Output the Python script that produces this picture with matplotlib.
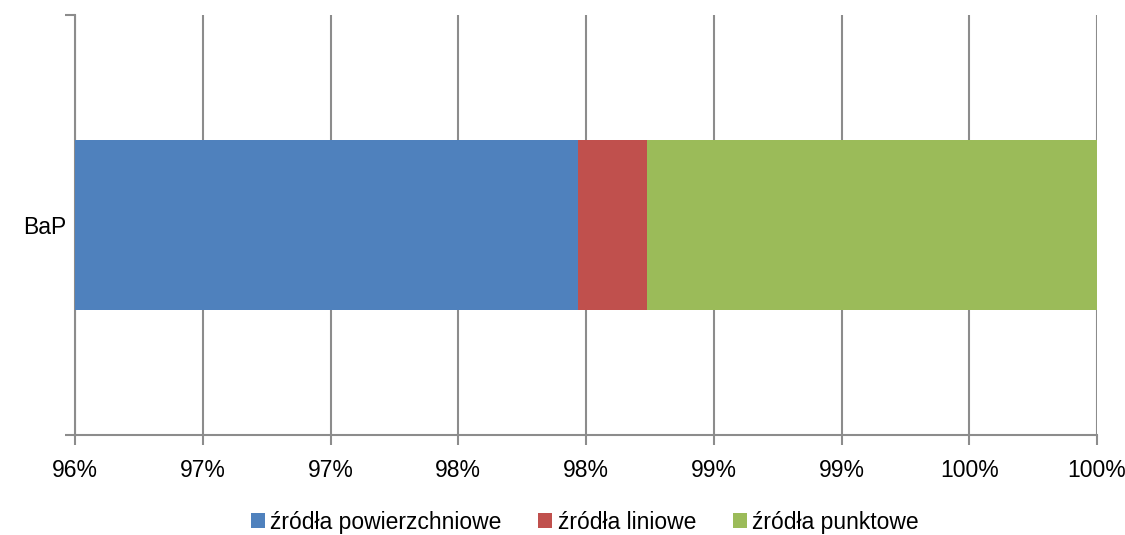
import matplotlib
matplotlib.use('agg')
import matplotlib.pyplot as plt
from matplotlib.ticker import FixedLocator, FixedFormatter

# data (percent shares)
categories = ["BaP"]
series_names = ["źródła powierzchniowe", "źródła liniowe", "źródła punktowe"]
series_values = [[97.97], [0.27], [1.76]]
colors = ["#4F81BD", "#C0504D", "#9BBB59"]
x_ticks = [96, 96.5, 97, 97.5, 98, 98.5, 99, 99.5, 100]
x_tick_labels = ["96%", "97%", "97%", "98%", "98%", "99%", "99%", "100%", "100%"]

plt.rcParams['font.family'] = ["Liberation Sans", "DejaVu Sans"]

fig = plt.figure(figsize=(11.25, 5.35), dpi=100)
ax = fig.add_axes([75 / 1125, 1 - 435 / 535, (1097 - 75) / 1125, 420 / 535])

left = [0.0] * len(categories)
for name, vals, col in zip(series_names, series_values, colors):
    ax.barh(categories, vals, left=left, height=0.405, color=col, label=name, zorder=3)
    left = [l + v for l, v in zip(left, vals)]

ax.set_xlim(96, 100)
ax.set_ylim(-0.5, 0.5)
ax.xaxis.set_major_locator(FixedLocator(x_ticks))
ax.xaxis.set_major_formatter(FixedFormatter(x_tick_labels))
ax.grid(axis='x', color='#8c8c8c', linewidth=1.5, zorder=0)
ax.set_axisbelow(True)

for s in ['top', 'right']:
    ax.spines[s].set_visible(False)
for s in ['left', 'bottom']:
    ax.spines[s].set_color('#8c8c8c')
    ax.spines[s].set_linewidth(1.5)

ax.tick_params(axis='x', length=7, width=1.5, color='#8c8c8c', labelsize=16.5, pad=10)
ax.yaxis.set_major_locator(FixedLocator([0]))
ax.yaxis.set_minor_locator(FixedLocator([-0.5, 0.5]))
ax.tick_params(axis='y', which='major', length=0, labelsize=16.5, pad=6)
ax.tick_params(axis='y', which='minor', length=7, width=1.5, color='#8c8c8c')
for lbl in ax.get_yticklabels():
    lbl.set_y(-0.03)

fig.legend(loc='center', bbox_to_anchor=(0.52, 0.024), ncol=3, frameon=False,
           fontsize=16.5, handlelength=0.6, handleheight=0.6, handletextpad=0.25,
           columnspacing=1.6, borderpad=0)

fig.savefig('out.png', dpi=100)
